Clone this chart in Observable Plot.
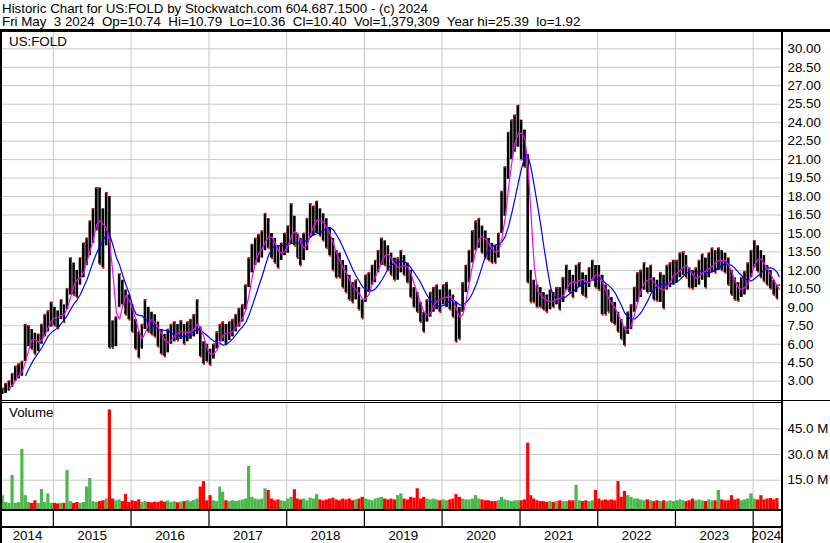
<!DOCTYPE html>
<html><head><meta charset="utf-8">
<script src="https://cdn.jsdelivr.net/npm/d3@7"></script>
<script src="https://cdn.jsdelivr.net/npm/@observablehq/plot@0.6"></script>
<style>
html,body{margin:0;padding:0;background:#fff;}
#wrap{position:relative;width:830px;height:543px;overflow:hidden;font-family:"Liberation Sans",Arial,sans-serif;color:#000;}
.txt{position:absolute;font-size:13.33px;line-height:13px;height:13px;white-space:pre;}
.blk{position:absolute;background:#000;}
.plot{position:absolute;left:0;}
</style></head><body><div id="wrap"></div>
<script>
// ---------- DATA (semi-monthly periods, May 2014 .. May 3 2024) ----------
const hi = [
  // 2014 May..Dec
  2.4, 2.8, 3.0, 3.6, 4.2, 4.4, 4.6, 7.6, 7.5, 7.2, 6.9, 6.8, 7.6, 8.4, 8.7, 9.4,
  // 2015
  9.0, 8.7, 9.6, 9.2, 10.5, 13.0, 12.6, 12.0, 13.0, 14.2, 14.6, 16.0, 17.0, 18.7, 18.7, 17.0, 18.3, 18.0, 7.9, 8.2, 11.7, 11.2, 10.4, 10.0,
  // 2016
  9.2, 8.0, 7.0, 7.6, 9.6, 9.0, 8.6, 8.4, 7.8, 7.2, 6.8, 7.2, 7.6, 7.8, 7.6, 7.9, 7.6, 7.8, 8.0, 8.4, 9.6, 7.4, 6.2, 6.0,
  // 2017
  5.6, 6.0, 7.0, 7.6, 7.8, 7.6, 7.8, 8.0, 8.4, 8.9, 9.2, 10.8, 13.0, 14.1, 14.6, 14.9, 15.2, 16.6, 16.2, 15.0, 14.6, 14.0, 14.2, 15.0,
  // 2018
  15.6, 17.4, 16.4, 15.0, 14.6, 15.0, 16.2, 17.4, 17.2, 17.6, 17.0, 16.6, 16.2, 15.4, 14.6, 13.6, 13.4, 12.8, 12.4, 11.6, 11.0, 11.2, 10.6, 9.6,
  // 2019
  11.6, 11.8, 12.4, 12.8, 13.6, 14.6, 14.4, 14.0, 13.4, 13.0, 13.0, 13.6, 13.2, 12.6, 12.0, 10.6, 10.2, 9.4, 8.6, 9.6, 10.2, 10.6, 10.8, 10.4,
  // 2020
  10.8, 11.0, 10.4, 10.0, 9.4, 9.0, 11.0, 12.4, 13.6, 15.2, 16.0, 16.2, 15.6, 15.2, 14.6, 14.2, 14.0, 15.0, 18.4, 20.4, 23.2, 24.2, 24.6, 25.39,
  // 2021
  24.2, 23.4, 21.4, 12.0, 11.2, 10.8, 10.6, 10.2, 10.0, 10.4, 10.2, 10.6, 10.6, 11.4, 12.4, 12.0, 11.6, 12.4, 12.6, 11.8, 11.6, 12.2, 12.8, 12.4,
  // 2022
  12.4, 11.6, 10.8, 10.4, 9.8, 9.4, 8.6, 8.0, 7.4, 8.6, 9.2, 10.6, 11.8, 12.0, 12.6, 12.2, 12.4, 11.4, 11.2, 11.8, 11.6, 12.4, 12.6, 12.8,
  // 2023
  12.8, 13.4, 13.5, 13.2, 12.2, 12.0, 12.2, 12.8, 13.3, 13.0, 13.4, 13.8, 13.6, 13.8, 13.6, 13.4, 13.0, 12.0, 11.4, 11.0, 11.4, 11.9, 12.6, 13.6,
  // 2024 Jan..May 3
  14.4, 14.0, 13.6, 13.2, 12.4, 12.0, 11.2, 10.8, 10.79
];
const lo = [
  1.92, 2.0, 2.2, 2.5, 3.0, 3.2, 3.4, 4.6, 5.8, 5.6, 5.2, 5.4, 6.0, 6.6, 7.0, 7.4,
  7.5, 7.3, 8.0, 7.8, 8.8, 10.0, 10.0, 9.8, 10.8, 11.4, 12.4, 13.2, 14.2, 15.2, 12.5, 12.2, 14.0, 5.7, 5.7, 5.8, 9.0, 9.2, 8.4, 8.0,
  7.0, 5.6, 4.9, 5.6, 7.2, 7.0, 6.8, 6.6, 5.8, 5.2, 5.0, 5.3, 6.0, 6.2, 6.3, 6.4, 6.0, 6.2, 6.4, 6.6, 6.8, 5.0, 4.4, 4.6,
  4.3, 4.8, 5.6, 6.2, 6.2, 6.0, 6.3, 6.6, 7.0, 7.4, 7.8, 8.8, 10.6, 11.8, 12.4, 12.6, 13.0, 13.6, 13.8, 13.0, 12.6, 12.2, 12.8, 13.2,
  13.4, 14.2, 14.0, 13.0, 12.4, 12.8, 13.6, 14.6, 14.8, 15.0, 14.8, 14.4, 13.8, 13.2, 12.0, 11.4, 11.4, 10.6, 10.2, 9.6, 9.4, 9.6, 8.8, 8.1,
  9.4, 10.2, 10.8, 11.0, 11.8, 12.4, 12.4, 12.0, 11.6, 11.2, 11.2, 11.8, 11.6, 11.0, 9.8, 9.0, 8.6, 7.8, 7.0, 7.8, 8.2, 8.6, 8.8, 8.6,
  9.2, 9.0, 8.8, 8.2, 6.2, 6.4, 8.6, 10.2, 11.0, 12.6, 13.6, 13.8, 13.4, 13.0, 12.8, 12.6, 12.6, 13.0, 15.0, 16.4, 19.4, 21.0, 21.6, 22.0,
  21.0, 20.4, 11.0, 9.4, 9.4, 9.0, 9.0, 8.8, 8.6, 8.8, 9.0, 9.2, 8.8, 9.4, 10.4, 10.2, 9.8, 10.2, 10.6, 10.0, 9.8, 10.6, 11.2, 10.6,
  10.4, 8.4, 8.4, 8.6, 7.8, 7.6, 7.0, 6.4, 5.9, 6.8, 7.2, 8.6, 9.4, 9.8, 10.4, 10.2, 10.2, 9.6, 9.5, 9.4, 8.9, 10.4, 10.6, 10.8,
  11.0, 11.4, 11.6, 11.4, 10.6, 10.5, 10.6, 10.8, 11.2, 10.6, 11.4, 11.8, 11.8, 12.0, 12.0, 11.8, 10.8, 10.0, 9.6, 9.5, 9.8, 10.0, 10.4, 11.4,
  12.2, 11.9, 11.4, 11.1, 10.8, 10.5, 10.0, 9.7, 10.36
];
// volume, millions of shares (peak value seen in each half-month)
const volume = [
  6, 2, 1.5, 17.8, 1.5, 2, 33, 6, 2, 1.5, 3, 1.5, 9.6, 2, 7, 1.5,
  1.5, 1.2, 1.5, 1.5, 20.7, 2.5, 1.5, 2, 1.5, 2, 11, 16, 2.5, 2, 2.5, 3, 4, 56, 4, 3, 3.5, 2.5, 6.6, 2,
  3, 2.5, 3.5, 2, 2.6, 2, 1.8, 2.2, 2, 2.8, 2.2, 3, 2, 2.4, 1.8, 2.2, 2.5, 3, 2.4, 3.2, 4, 11, 14.2, 3,
  6, 3, 2.5, 11, 8, 3, 2.5, 3, 2.5, 3, 3.5, 4, 23, 5, 4, 3.5, 4, 10, 9, 4, 3, 3.5, 3, 2.5,
  4, 5, 9.4, 4, 3.5, 4, 3, 4.5, 4, 6.6, 3.5, 3, 3.5, 4, 4.5, 3.5, 3, 4, 3.5, 4, 3, 3.5, 4, 5,
  4, 3.5, 3, 4, 4.5, 5, 4, 3.5, 4, 3.5, 6, 7, 4, 3.5, 5, 4.5, 10, 4, 5, 4, 3.5, 4, 3.5, 3,
  3.5, 3, 3.5, 4, 6.6, 5, 4, 3.5, 3.5, 4, 6, 4, 3.5, 3, 3, 2.5, 2.5, 3, 5, 3.5, 3, 2.5, 3, 3,
  3, 3.5, 36.6, 6, 4, 3, 2.5, 2.5, 2, 2.5, 2, 2.5, 3, 2.5, 2.5, 3, 3, 12, 3, 2.5, 3, 2.5, 3, 9,
  4, 3, 3.5, 3, 3.5, 3, 14.2, 5, 8.5, 6, 5, 4, 4, 3.5, 3, 3.5, 3, 2.5, 3, 2.5, 3, 2.5, 3, 2.5,
  3, 3.5, 3, 2.5, 3, 4, 3, 3.5, 3, 2.5, 3.5, 3, 3, 9, 3.5, 3, 3, 6, 3.5, 4, 3, 3.5, 4, 7,
  4, 3.5, 6, 3.5, 4, 4.3, 3.5, 4.3, 1.4
];
const priceTicks = [3, 4.5, 6, 7.5, 9, 10.5, 12, 13.5, 15, 16.5, 18, 19.5, 21, 22.5, 24, 25.5, 27, 28.5, 30];
const volumeTicks = [15e6, 30e6, 45e6];
const yearLabels = ["2014","2015","2016","2017","2018","2019","2020","2021","2022","2023","2024"];
const headerLine1 = "Historic Chart for US:FOLD by Stockwatch.com 604.687.1500 - (c) 2024";
const headerLine2 = "Fri May  3 2024  Op=10.74  Hi=10.79  Lo=10.36  Cl=10.40  Vol=1,379,309  Year hi=25.39  lo=1.92";
const symbolLabel = "US:FOLD";
const volumeLabel = "Volume";

// ---------- BUILD ----------
const t0 = new Date(Date.UTC(2014, 4, 3));
const tEnd = new Date(Date.UTC(2024, 4, 4));
const tDomEnd = new Date(Date.UTC(2024, 4, 13));
const starts = hi.map((_, i) => i === 0 ? t0 : new Date(Date.UTC(2014, 4 + Math.floor(i / 2), i % 2 ? 16 : 1)));
const rows = hi.map((h, i) => {
  const s = starts[i], e = i < hi.length - 1 ? starts[i + 1] : tEnd;
  return {s, e, m: new Date((+s + +e) / 2), hi: h, lo: lo[i], mid: (h + lo[i]) / 2, vol: volume[i] * 1e6};
});
rows.forEach((r, i) => { r.up = i === 0 ? true : r.mid >= rows[i - 1].mid; });
const yearStarts = yearLabels.slice(1).map(y => new Date(Date.UTC(+y, 0, 1)));
const labelRows = yearLabels.map((y, i) => {
  const a = i === 0 ? t0 : yearStarts[i - 1];
  const b = i < yearStarts.length ? yearStarts[i] : tEnd;
  return {t: y, m: new Date((+a + +b) / 2)};
});

const FONT = '"Liberation Sans", Arial, sans-serif';
const common = {
  width: 830, marginLeft: 1.1, marginRight: 49,
  x: {type: "utc", domain: [t0, tDomEnd], axis: null},
  style: {fontFamily: FONT, fontSize: "13.33px", color: "#000", background: "transparent", overflow: "visible"}
};
const GRID = "#c8c8c8";
const GREEN = "#4cb84c", RED = "#ff0000";

// price panel (page y 32..400)
const pricePlot = Plot.plot({
  ...common, height: 368, marginTop: 0, marginBottom: 0,
  y: {domain: [1.432, 31.324], axis: null},
  marks: [
    Plot.ruleY(priceTicks, {stroke: GRID, strokeWidth: 1}),
    Plot.ruleX(yearStarts, {stroke: GRID, strokeWidth: 1}),
    Plot.rect(rows, {x1: "s", x2: "e", y1: "lo", y2: "hi", fill: "#000", insetLeft: 0.3, insetRight: 0.3}),
    Plot.dot(rows, {x: "m", y: d => d.up ? d.hi : d.lo, r: 1.1, symbol: "square", fill: RED}),
    Plot.line(rows, Plot.windowY({k: 8, anchor: "end", strict: true}, {x: "m", y: "mid", stroke: "#0000ff", strokeWidth: 1.2})),
    Plot.line(rows, Plot.windowY({k: 3, anchor: "end", strict: true}, {x: "m", y: "mid", stroke: "#ff00ff", strokeWidth: 1.2})),
    Plot.axisY(priceTicks, {anchor: "right", tickSize: 0, tickPadding: 6, tickFormat: d => d.toFixed(2), fontSize: 13.33, fill: "#000", label: null})
  ]
});

// volume panel (page y 403..509)
const vMin = -2.1e6, vMax = 59.77e6;
const volumePlot = Plot.plot({
  ...common, height: 106, marginTop: 0, marginBottom: 0,
  y: {domain: [vMin, vMax], axis: null},
  marks: [
    Plot.ruleY(volumeTicks, {stroke: GRID, strokeWidth: 1}),
    Plot.ruleX(yearStarts, {stroke: GRID, strokeWidth: 1}),
    Plot.rect(rows.filter(d => d.up), {x1: "s", x2: "e", y1: () => vMin, y2: "vol", fill: GREEN}),
    Plot.rect(rows.filter(d => !d.up), {x1: "s", x2: "e", y1: () => vMin, y2: "vol", fill: RED}),
    Plot.axisY(volumeTicks, {anchor: "right", tickSize: 0, tickPadding: 6, tickFormat: d => (d / 1e6).toFixed(1) + " M", fontSize: 13.33, fill: "#000", label: null})
  ]
});

// year strip (page y 509..543): upper row = year ticks, lower row = labels
const stripPlot = Plot.plot({
  ...common, height: 34, marginTop: 1, marginBottom: 0,
  y: {domain: [0, 2], axis: null},
  marks: [
    Plot.ruleX(yearStarts, {y1: 1.03, y2: 2, stroke: "#000", strokeWidth: 1.2}),
    Plot.ruleX(yearStarts.slice(-1), {y1: 0, y2: 1, stroke: "#000", strokeWidth: 1.2}),
    Plot.text(labelRows, {x: "m", y: () => 0.5, text: "t", fontSize: 13.33, fill: "#000"})
  ]
});

const wrap = document.getElementById("wrap");
function place(node, top) { node.classList.add("plot"); node.style.top = top + "px"; wrap.appendChild(node); }
place(pricePlot, 32);
place(volumePlot, 403);
place(stripPlot, 509);
function box(cls, css, text) { const d = document.createElement("div"); d.className = cls; Object.assign(d.style, css); if (text) d.textContent = text; wrap.appendChild(d); }
box("txt", {left: "2px", top: "1.5px"}, headerLine1);
box("txt", {left: "2px", top: "15px"}, headerLine2);
box("txt", {left: "9px", top: "34.5px"}, symbolLabel);
box("txt", {left: "9px", top: "406px"}, volumeLabel);
// frame lines
box("blk", {left: "0px", top: "29px", width: "830px", height: "3px"});
box("blk", {left: "0px", top: "29px", width: "2px", height: "514px"});
box("blk", {left: "780.7px", top: "29px", width: "2px", height: "514px"});
box("blk", {left: "0px", top: "400px", width: "830px", height: "1px"});
box("blk", {left: "0px", top: "402px", width: "781px", height: "1px"});
box("blk", {left: "0px", top: "509px", width: "781px", height: "2px"});
box("blk", {left: "0px", top: "526px", width: "781px", height: "2px"});
</script></body></html>
